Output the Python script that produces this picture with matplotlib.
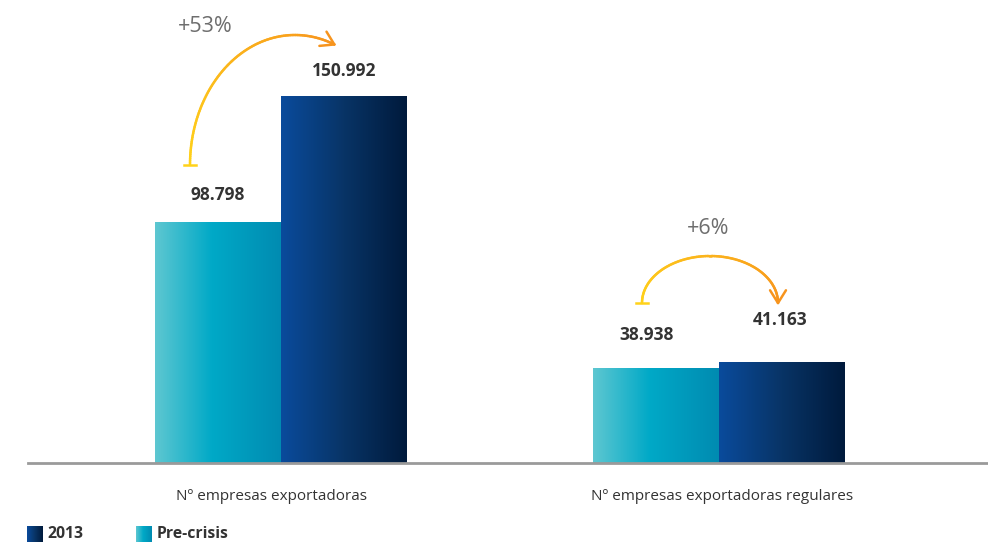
import numpy as np
import matplotlib
matplotlib.use('Agg')
import matplotlib.pyplot as plt
import matplotlib.transforms as mtransforms
from matplotlib.colors import LinearSegmentedColormap
from matplotlib.collections import LineCollection

plt.rcParams['font.family'] = ['Open Sans', 'DejaVu Sans']

# data
categories = ['Nº empresas exportadoras', 'Nº empresas exportadoras regulares']
pre_crisis = [98798, 38938]
y2013 = [150992, 41163]
growth_labels = ['+53%', '+6%']
series_names = ['2013', 'Pre-crisis']

# gradients for the bars
cmap_pre = LinearSegmentedColormap.from_list('pre', [(0, '#5ec7d1'), (0.45, '#00a9c7'), (1, '#008bb1')])
cmap_2013 = LinearSegmentedColormap.from_list('y13', [(0, '#0a4b9c'), (0.5, '#083466'), (1, '#001a3c')])
grad = np.linspace(0, 1, 256).reshape(1, -1)

W, H = 988, 544
fig = plt.figure(figsize=(W / 100, H / 100), dpi=100)

# main axes: baseline at y=463px, group centres at 281px and 719px
base_px = 463
ax = fig.add_axes([28 / W, (H - base_px) / H, 960 / W, base_px / H])
px_per_unit = 438
bar_w = 126 / px_per_unit
x = np.arange(len(categories))

def gradient_bar(ax, x0, x1, h, cmap):
    ax.imshow(grad, extent=(x0, x1, 0, h), aspect='auto', cmap=cmap, zorder=2, interpolation='bilinear')

for i in x:
    gradient_bar(ax, i - bar_w, i, pre_crisis[i], cmap_pre)
    gradient_bar(ax, i, i + bar_w, y2013[i], cmap_2013)

ymax = max(y2013) * base_px / 367
ax.set_xlim(-253 / px_per_unit, 707 / px_per_unit)
ax.set_ylim(0, ymax)

# value labels above the bars (offsets in pixels)
pre_offsets = [(0, 28), (-9, 33)]
y13_offsets = [(0, 25), (-2, 43)]
fmt = lambda v: f'{v:,}'.replace(',', '.')
for i in x:
    ax.annotate(fmt(pre_crisis[i]), (i - bar_w / 2, pre_crisis[i]), xytext=pre_offsets[i],
                textcoords='offset pixels', ha='center', va='center',
                fontsize=12.5, fontweight='bold', color='#333333')
    ax.annotate(fmt(y2013[i]), (i + bar_w / 2, y2013[i]), xytext=y13_offsets[i],
                textcoords='offset pixels', ha='center', va='center',
                fontsize=12.5, fontweight='bold', color='#333333')

for s in ['top', 'right', 'left']:
    ax.spines[s].set_visible(False)
ax.spines['bottom'].set_color('#9a9a9a')
ax.spines['bottom'].set_linewidth(2)
ax.set_yticks([])
ax.set_xticks(x)
ax.set_xticklabels(categories, fontsize=11, color='#333333')
ax.tick_params(axis='x', length=0, pad=19)
# nudge the category labels a little
label_shift = [-10, 3]
for lbl, dx in zip(ax.get_xticklabels(), label_shift):
    lbl.set_transform(lbl.get_transform() + mtransforms.ScaledTranslation(dx / 100, 0, fig.dpi_scale_trans))

# overlay in pixel coordinates for arrows, growth labels and legend
ov = fig.add_axes([0, 0, 1, 1], zorder=5)
ov.set_xlim(0, W)
ov.set_ylim(H, 0)
ov.axis('off')
ov.patch.set_alpha(0)

yellow = np.array(matplotlib.colors.to_rgb('#ffd21a'))
orange = np.array(matplotlib.colors.to_rgb('#f7941d'))

def curved_arrow(cx, cy, a, b, t0, t1):
    t = np.linspace(t0, t1, 120)
    px = cx + a * np.cos(t)
    py = cy - b * np.sin(t)
    pts = np.column_stack([px, py]).reshape(-1, 1, 2)
    segs = np.concatenate([pts[:-1], pts[1:]], axis=1)
    f = np.linspace(0, 1, len(segs))[:, None]
    cols = yellow * (1 - f) + orange * f
    ov.add_collection(LineCollection(segs, colors=cols, linewidth=1.8, capstyle='round'))
    # T bar at the start
    d0 = np.array([-a * np.sin(t0), -b * np.cos(t0)])
    d0 = d0 / np.linalg.norm(d0)
    n0 = np.array([-d0[1], d0[0]])
    ov.plot([px[0] - 6 * n0[0], px[0] + 6 * n0[0]], [py[0] - 6 * n0[1], py[0] + 6 * n0[1]],
            color=yellow, lw=1.8)
    # open arrow head at the end
    d1 = np.array([a * np.sin(t1), b * np.cos(t1)])
    d1 = d1 / np.linalg.norm(d1)
    for ang in (np.radians(32), -np.radians(32)):
        r = np.array([[np.cos(ang), -np.sin(ang)], [np.sin(ang), np.cos(ang)]]) @ (-d1)
        ov.plot([px[-1], px[-1] + 15 * r[0]], [py[-1], py[-1] + 15 * r[1]],
                color=orange, lw=1.8, solid_capstyle='round')

curved_arrow(295, 165, 105, 130, np.pi, np.radians(68))
curved_arrow(710, 303, 68, 47, np.pi, 0.0)

ov.text(205, 26, growth_labels[0], ha='center', va='center', fontsize=15.5, color='#6e6e6e')
ov.text(708, 229, growth_labels[1], ha='center', va='center', fontsize=15.5, color='#6e6e6e')

# legend
legend_items = [(27, cmap_2013, 47), (136, cmap_pre, 157)]
for (sx, cm, tx), name in zip(legend_items, series_names):
    ov.imshow(grad, extent=(sx, sx + 16, 542, 526), aspect='auto', cmap=cm, interpolation='bilinear')
    ov.text(tx, 534.5, name, ha='left', va='center', fontsize=11.3, fontweight='bold', color='#333333')
ov.set_xlim(0, W)
ov.set_ylim(H, 0)

fig.savefig('out.png', dpi=100)
